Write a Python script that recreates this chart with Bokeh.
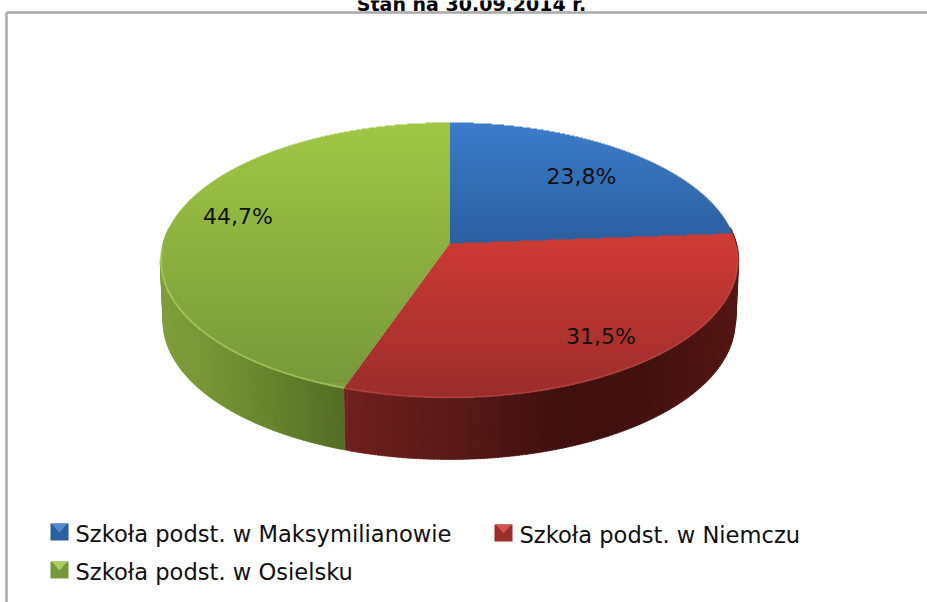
import numpy as np
from bokeh.plotting import figure
from bokeh.embed import file_html
from bokeh.resources import INLINE
from bokeh.core.properties import value

# ---- data
categories = ["Szkoła podst. w Maksymilianowie", "Szkoła podst. w Niemczu", "Szkoła podst. w Osielsku"]
shares = [23.8, 31.5, 44.7]
share_labels = ["23,8%", "31,5%", "44,7%"]
title_text = "Stan na 30.09.2014 r."

# ---- style / layout
W, H = 927, 602
FONT = "DejaVu Sans"
CX, CY, A, B, E = 449.0, 243.0, 286.5, 135.5, 0.12
DEPTH, BOTTOM_SCALE = 62.0, 0.99
face_top = ["#3b7dcb", "#cf3b36", "#a0c745"]
face_bot = ["#2c5f9e", "#9b2d2b", "#76983a"]
rim_col = ["#4f8ad0", "#d8605a", "#b9da6c"]
rim_alpha = [0.4, 0.35, 0.55]
side_x = [[345, 450, 560, 640, 738], [345, 450, 560, 640, 738], [161, 220, 280, 345, 346]]
side_rgb = [
    [(80, 25, 22)] * 5,
    [(112, 32, 30), (88, 26, 24), (64, 16, 14), (66, 17, 15), (84, 22, 20)],
    [(128, 158, 58), (116, 146, 52), (100, 128, 44), (82, 108, 36), (82, 108, 36)],
]
label_r = [0.72, 0.80, 0.76]
label_dy = [0, 0, -10]
legend_x = [50, 494, 50]
legend_y = [532, 533, 570]
LEG_FS = "22.6px"


def proj(theta, r=1.0):
    u, v = np.sin(theta) * r, np.cos(theta) * r
    d = 1 + E * v
    return CX + A * u / d, CY - B * v / d


def hexrgb(h):
    return np.array([int(h[i:i + 2], 16) for i in (1, 3, 5)], float)


def tohex(c):
    return "#%02x%02x%02x" % tuple(int(round(x)) for x in c)


p = figure(width=W, height=H, x_range=(0, W), y_range=(H, 0), toolbar_location=None,
           output_backend="svg", min_border=0, outline_line_color=None,
           background_fill_color="white", border_fill_color="white")
p.axis.visible = False
p.grid.visible = False

# frame
p.segment([6, 6], [12, 12], [W, 6], [12, H], line_color="#a9a9a9", line_width=2.5)

# slice angles
fr = np.array(shares) / sum(shares)
edges = np.concatenate([[0], np.cumsum(fr)]) * 2 * np.pi

# side wall
xs_q, ys_q, col_q = [], [], []
for i in range(3):
    t0, t1 = edges[i], edges[i + 1]
    ts = np.linspace(t0, t1, int((t1 - t0) * 90) + 2)
    for a, b in zip(ts[:-1], ts[1:]):
        mid = (a + b) / 2
        if np.cos(mid) > 0.12:
            continue
        xa, ya = proj(a)
        xb, yb = proj(b)
        xa2 = CX + (xa - CX) * BOTTOM_SCALE
        xb2 = CX + (xb - CX) * BOTTOM_SCALE
        ya2 = ya + DEPTH
        yb2 = yb + DEPTH
        xm = (xa + xb) / 2
        rgb = [np.interp(xm, side_x[i], [c[k] for c in side_rgb[i]]) for k in range(3)]
        pad = 0.7 if i != 1 or b < edges[2] - 0.02 else 0
        xs_q.append([xa, xb + (pad if xb > xa else -pad), xb2 + (pad if xb > xa else -pad), xa2])
        ys_q.append([ya, yb, yb2, ya2])
        col_q.append(tohex(rgb))
p.patches(xs_q, ys_q, fill_color=col_q, line_color=col_q, line_width=0.6)

# top faces as gradient bands
for i in range(3):
    ts = np.linspace(edges[i], edges[i + 1], 200)
    ox, oy = proj(ts)
    px = np.concatenate([[CX], ox, [CX]])
    py = np.concatenate([[CY], oy, [CY]])
    ymin, ymax = py.min(), py.max()
    top, bot = hexrgb(face_top[i]), hexrgb(face_bot[i])
    ql, qr, qt, qb, qc = [], [], [], [], []
    for y in np.arange(np.floor(ymin), np.ceil(ymax)):
        yc = y + 0.5
        hits = []
        for k in range(len(px) - 1):
            y0, y1 = py[k], py[k + 1]
            if (y0 - yc) * (y1 - yc) <= 0 and y0 != y1:
                hits.append(px[k] + (yc - y0) / (y1 - y0) * (px[k + 1] - px[k]))
        if len(hits) < 2:
            continue
        f = (yc - ymin) / (ymax - ymin)
        ql.append(min(hits)); qr.append(max(hits)); qt.append(y); qb.append(y + 1.4)
        qc.append(tohex(top + (bot - top) * f))
    p.quad(left=ql, right=qr, top=qt, bottom=qb, fill_color=qc, line_color=None)
    # near-rim highlight
    tr = ts[np.cos(ts) < -0.02]
    if len(tr):
        rx, ry = proj(tr)
        p.line(rx, ry, line_color=rim_col[i], line_width=2, line_alpha=rim_alpha[i])

# data labels
for i in range(3):
    mid = (edges[i] + edges[i + 1]) / 2
    lx, ly = proj(mid, label_r[i])
    p.text([lx], [ly + label_dy[i]], text=[share_labels[i]], text_font=value(FONT),
           text_font_size="22px", text_color="#101010", text_align="center", text_baseline="middle")

# legend
for i in range(3):
    x0, y0 = legend_x[i], legend_y[i]
    top, bot = hexrgb(face_top[i]), hexrgb(face_bot[i])
    p.quad(left=[x0], right=[x0 + 18], top=[y0 - 9], bottom=[y0 + 8], fill_color=tohex(bot), line_color=None)
    p.patch([x0 + 1, x0 + 17, x0 + 9], [y0 - 9, y0 - 9, y0], fill_color=tohex(top + (255 - top) * 0.12), line_color=None)
    p.text([x0 + 25], [y0 + 1], text=[categories[i]], text_font=value(FONT), text_font_size=LEG_FS,
           text_color="#101010", text_align="left", text_baseline="middle")

# title (cropped by the top of the picture, as in the reference)
p.text([471], [3], text=[title_text], text_font=value(FONT), text_font_size="19px", text_font_style="bold",
       text_color="#000000", text_align="center", text_baseline="alphabetic")

open("out.html", "w").write(file_html(p, INLINE))
